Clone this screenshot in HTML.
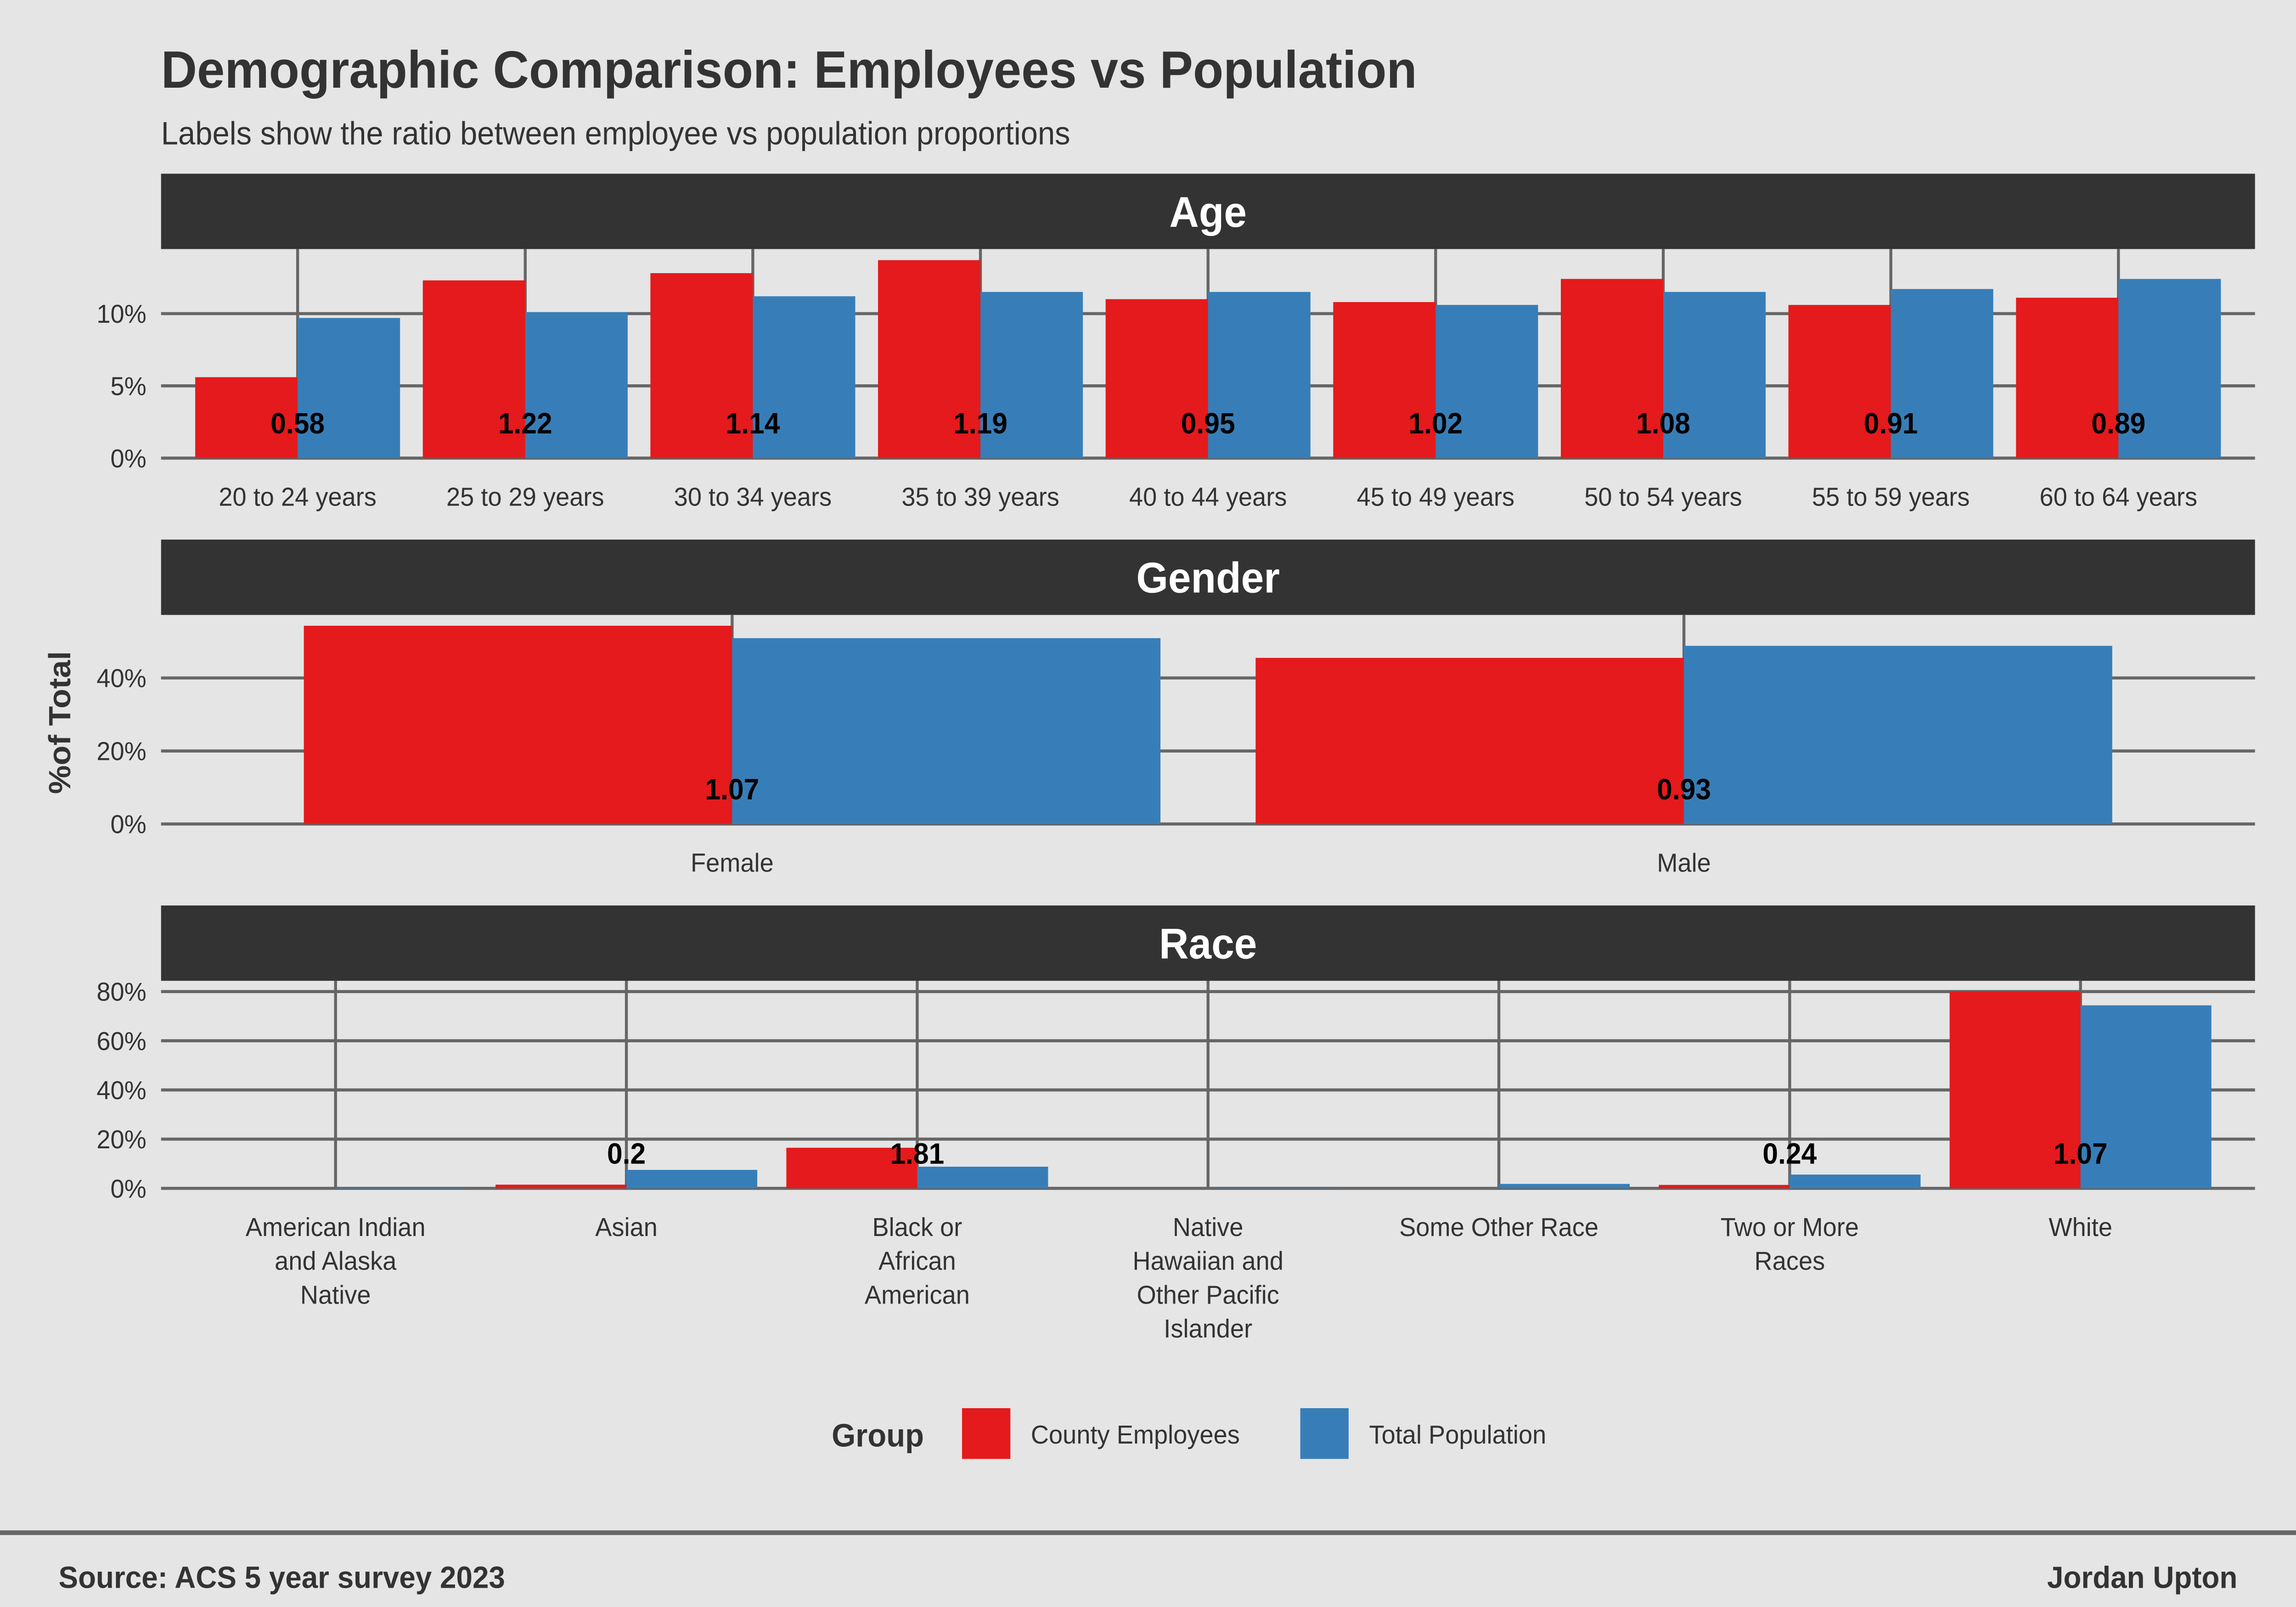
<!DOCTYPE html>
<html><head><meta charset="utf-8"><style>
html,body{margin:0;padding:0;background:#e5e5e5;width:100%;height:100%;overflow:hidden}
svg{display:block;width:100vw;height:100vh}
text{font-family:"Liberation Sans",Arial,sans-serif}
</style></head><body>
<svg id="chart" viewBox="0 0 1568 1045.33" preserveAspectRatio="none" xmlns="http://www.w3.org/2000/svg">
<rect width="1568" height="1046" fill="#e5e5e5"/>
<text x="110" y="57" font-size="34" font-weight="bold" fill="#333">Demographic Comparison: Employees vs Population</text>
<text x="110" y="94" font-size="21" fill="#333">Labels show the ratio between employee vs population proportions</text>
<text transform="translate(48,470) rotate(-90)" text-anchor="middle" font-size="21" font-weight="bold" fill="#333">%of Total</text>
<g id="panels"></g>
<g>
<text x="568" y="941" font-size="21" font-weight="bold" fill="#333">Group</text>
<rect x="657" y="916" width="33" height="33" fill="#e41a1c"/>
<text x="704" y="939" font-size="17" fill="#333">County Employees</text>
<rect x="888" y="916" width="33" height="33" fill="#377eb8"/>
<text x="935" y="939" font-size="17" fill="#333">Total Population</text>
</g>
<line x1="0" x2="1568" y1="997" y2="997" stroke="#666" stroke-width="3"/>
<text x="40" y="1033" font-size="20" font-weight="bold" fill="#333">Source: ACS 5 year survey 2023</text>
<text x="1528" y="1033" text-anchor="end" font-size="20" font-weight="bold" fill="#333">Jordan Upton</text>
</svg>
<script>
const ageCategories=["20 to 24 years","25 to 29 years","30 to 34 years","35 to 39 years","40 to 44 years","45 to 49 years","50 to 54 years","55 to 59 years","60 to 64 years"];
const ageEmployees=[5.6,12.3,12.8,13.7,11.0,10.8,12.4,10.6,11.1];
const agePopulation=[9.7,10.1,11.2,11.5,11.5,10.6,11.5,11.7,12.4];
const ageRatios=["0.58","1.22","1.14","1.19","0.95","1.02","1.08","0.91","0.89"];
const ageTicks=[0,5,10];
const genderCategories=["Female","Male"];
const genderEmployees=[54.3,45.5];
const genderPopulation=[50.9,48.8];
const genderRatios=["1.07","0.93"];
const genderTicks=[0,20,40];
const raceCategories=[["American Indian","and Alaska","Native"],["Asian"],["Black or","African","American"],["Native","Hawaiian and","Other Pacific","Islander"],["Some Other Race"],["Two or More","Races"],["White"]];
const raceEmployees=[0,1.5,16.5,0,0,1.4,80];
const racePopulation=[0.2,7.5,8.8,0.1,1.8,5.6,74.4];
const raceRatios=["","0.2","1.81","","","0.24","1.07"];
const raceTicks=[0,20,40,60,80];

const NS="http://www.w3.org/2000/svg";
const root=document.getElementById('panels');
function mk(tag,attrs,parent){const e=document.createElementNS(NS,tag);for(const k in attrs)e.setAttribute(k,attrs[k]);(parent||root).appendChild(e);return e;}

function panel(name,title,stripTop,top,base,pxPer,cats,emp,pop,ratios,ticks){
  const g=mk('g',{});
  
  
  const s=mk('rect',{x:110,y:stripTop,width:1430,height:top-stripTop,fill:'#333'},g);
  
  
  const st=mk('text',{x:825,y:(stripTop+top)/2+10,'text-anchor':'middle','font-size':28,'font-weight':'bold',fill:'#fff'},g);
  st.textContent=title;
  
  
  const n=cats.length, step=1430/(n-1+1.2);
  const xc=i=>110+0.6*step+i*step;
  const y=v=>base-v*pxPer;
  const bw=0.45*step;
  ticks.forEach(t=>{
    const l=mk('line',{x1:110,x2:1540,y1:y(t),y2:y(t),stroke:'#666','stroke-width':2},g);
    
    
    const tx=mk('text',{x:100,y:y(t)+6,'text-anchor':'end','font-size':17,fill:'#333'},g);
    tx.textContent=t+'%';
    
    
  });
  cats.forEach((c,i)=>{
    const l=mk('line',{x1:xc(i),x2:xc(i),y1:top,y2:base,stroke:'#666','stroke-width':2},g);
    
    
  });
  cats.forEach((c,i)=>{
    const r=mk('rect',{x:xc(i)-bw,y:y(emp[i]),width:bw,height:emp[i]*pxPer,fill:'#e41a1c'},g);
    
    
    const b=mk('rect',{x:xc(i),y:y(pop[i]),width:bw,height:pop[i]*pxPer,fill:'#377eb8'},g);
    
    
    if(ratios[i]){
      const t=mk('text',{x:xc(i),y:base-16,'text-anchor':'middle','font-size':19,'font-weight':'bold',fill:'#000'},g);
      t.textContent=ratios[i];
      
      
    }
    const lines=Array.isArray(c)?c:[c];
    lines.forEach((ln,j)=>{
      const t=mk('text',{x:xc(i),y:base+31+j*22,'text-anchor':'middle','font-size':17,fill:'#333'},g);
      t.textContent=ln;
      
      
    });
  });
}
panel('age','Age',113,162,298,9.4,ageCategories,ageEmployees,agePopulation,ageRatios,ageTicks);
panel('gender','Gender',351,400,536,2.375,genderCategories,genderEmployees,genderPopulation,genderRatios,genderTicks);
panel('race','Race',589,638,773,1.6,raceCategories,raceEmployees,racePopulation,raceRatios,raceTicks);
</script>
</body></html>
